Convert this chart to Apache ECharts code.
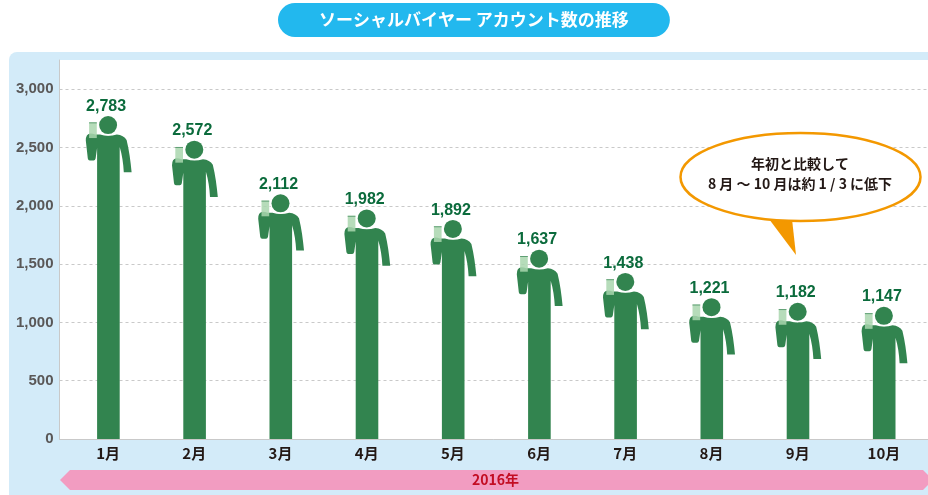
<!DOCTYPE html>
<html lang="ja">
<head>
<meta charset="utf-8">
<title>ソーシャルバイヤー アカウント数の推移</title>
<script src="https://cdn.jsdelivr.net/npm/echarts@6/dist/echarts.min.js"></script>
<style>
  html, body { margin: 0; padding: 0; background: #fff; }
  #chart { width: 928px; height: 495px; }
</style>
</head>
<body>
<div id="chart"></div>
<script>
const titleText = "ソーシャルバイヤー アカウント数の推移";
const months = ["1月", "2月", "3月", "4月", "5月", "6月", "7月", "8月", "9月", "10月"];
const accounts = [2783, 2572, 2112, 1982, 1892, 1637, 1438, 1221, 1182, 1147];
const yearLabel = "2016年";
const calloutLines = ["年初と比較して", "8 月 ～ 10 月は約 1 / 3 に低下"];
const yMax = 3250;
const yStep = 500;

const jpFont = '"Noto Sans CJK JP", sans-serif';
const numFont = '"Liberation Sans", Arial, sans-serif';
const green = "#32844f";

const chart = echarts.init(document.getElementById("chart"));

// one person: head sits on the value, body runs down to the axis
const renderPerson = (params, api) => {
  const idx = api.value(0);
  const val = api.value(1);
  const top = api.coord([idx, val]);
  const base = api.coord([idx, 0]);
  const cx = top[0];
  const cy = top[1] + 10.6;
  const b = base[1] - cy;
  const bodyPath = `M -8 9.5 Q 0 12 8.7 9.5 Q 15.5 10 18.5 15 C 21 25 22.5 36 23.5 47.3 L 15.7 47.3
    C 15.2 38 14 30 11.6 22 L 11.6 ${b} L -11 ${b} L -11 23 L -12.5 33.5 Q -13 35.5 -14.5 35.5
    L -18.3 35.5 Q -20 35.5 -20.3 33.5 L -22.3 15.5 Q -22.3 9 -18 8.5 Q -15 8.5 -13 9.5 Z`;
  return {
    type: "group",
    x: cx,
    y: cy,
    children: [
      {
        type: "path",
        shape: { pathData: bodyPath },
        style: { fill: green },
      },
      {
        type: "rect",
        shape: { x: -19, y: -2.7, width: 7.7, height: 15.7 },
        style: { fill: "#a9d6ae", opacity: 0.85 },
      },
      {
        type: "rect",
        shape: { x: -19, y: -2.7, width: 7.7, height: 1 },
        style: { fill: "#5f9f74" },
      },
      {
        type: "circle",
        shape: { cx: 0, cy: 0, r: 10.4 },
        style: { fill: "#fff" },
      },
      {
        type: "circle",
        shape: { cx: 0, cy: 0, r: 9 },
        style: { fill: green },
      },
      {
        type: "text",
        style: {
          x: -2,
          y: -18.8,
          text: echarts.format.addCommas(val),
          fill: "#0b6b3c",
          font: `bold 16px ${numFont}`,
          align: "center",
          verticalAlign: "middle",
        },
      },
    ],
  };
};

const option = {
  animation: false,
  title: {
    text: titleText,
    left: 278,
    top: 3,
    padding: [8, 41, 8, 41],
    backgroundColor: "#22b8ee",
    borderRadius: 17,
    textStyle: {
      color: "#fff",
      fontFamily: jpFont,
      fontWeight: "bold",
      fontSize: 17,
      lineHeight: 18,
    },
  },
  // first grid carries the white plot and the y axis, second one the month bands
  grid: [
    { left: 59.5, top: 60, width: 868.5, height: 379, show: true, backgroundColor: "#fff", borderWidth: 0 },
    { left: 65, top: 60, width: 862, height: 379 },
  ],
  xAxis: [
    {
      gridIndex: 0,
      type: "category",
      data: months,
      axisLine: { show: true, lineStyle: { color: "#c9c9c9", width: 1 } },
      axisTick: { show: false },
      axisLabel: { show: false },
      splitLine: { show: false },
    },
    {
      gridIndex: 1,
      type: "category",
      data: months,
      axisLine: { show: false },
      axisTick: { show: false },
      axisLabel: {
        margin: 7,
        color: "#231815",
        fontFamily: jpFont,
        fontWeight: "bold",
        fontSize: 15,
      },
    },
  ],
  yAxis: [
    {
      gridIndex: 0,
      type: "value",
      min: 0,
      max: yMax,
      interval: yStep,
      axisLine: { show: true, lineStyle: { color: "#c9c9c9", width: 1 } },
      axisTick: { show: false },
      axisLabel: {
        showMaxLabel: false,
        margin: 6,
        padding: [2, 0, 0, 0],
        color: "#595757",
        fontFamily: numFont,
        fontWeight: "bold",
        fontSize: 15,
      },
      splitLine: {
        show: true,
        showMaxLine: false,
        showMinLine: false,
        lineStyle: { color: "#c9c9c9", type: [3, 3], width: 1 },
      },
    },
    {
      gridIndex: 1,
      type: "value",
      min: 0,
      max: yMax,
      interval: yStep,
      show: false,
    },
  ],
  series: [
    {
      name: "アカウント数",
      type: "custom",
      xAxisIndex: 1,
      yAxisIndex: 1,
      encode: { x: 0, y: 1 },
      data: accounts.map((v, i) => [i, v]),
      renderItem: renderPerson,
      silent: true,
    },
  ],
  graphic: [
    {
      type: "rect",
      z: -10,
      shape: { x: 9, y: 52, width: 930, height: 460, r: 8 },
      style: { fill: "#d3ebf9" },
    },
    {
      type: "polygon",
      z: 20,
      shape: { points: [[60, 480], [70, 470], [923, 470], [928, 475], [928, 485], [923, 490], [70, 490]] },
      style: { fill: "#f29cc1" },
    },
    {
      type: "text",
      z: 21,
      style: {
        x: 495.5,
        y: 480,
        text: yearLabel,
        fill: "#c30d23",
        font: `bold 14px ${jpFont}`,
        align: "center",
        verticalAlign: "middle",
      },
    },
    {
      type: "polygon",
      z: 20,
      shape: { points: [[769, 219], [792, 219], [796, 255]] },
      style: { fill: "#f39800" },
    },
    {
      type: "ellipse",
      z: 21,
      shape: { cx: 800.5, cy: 177, rx: 120, ry: 44 },
      style: { fill: "#fff", stroke: "#f39800", lineWidth: 2.5 },
    },
    {
      type: "text",
      z: 22,
      style: {
        x: 800,
        y: 164,
        text: calloutLines[0],
        fill: "#231815",
        font: `bold 14px ${jpFont}`,
        align: "center",
        verticalAlign: "middle",
      },
    },
    {
      type: "text",
      z: 22,
      style: {
        x: 800,
        y: 184,
        text: calloutLines[1],
        fill: "#231815",
        font: `bold 14px ${jpFont}`,
        align: "center",
        verticalAlign: "middle",
      },
    },
  ],
};

chart.setOption(option);
</script>
</body>
</html>
